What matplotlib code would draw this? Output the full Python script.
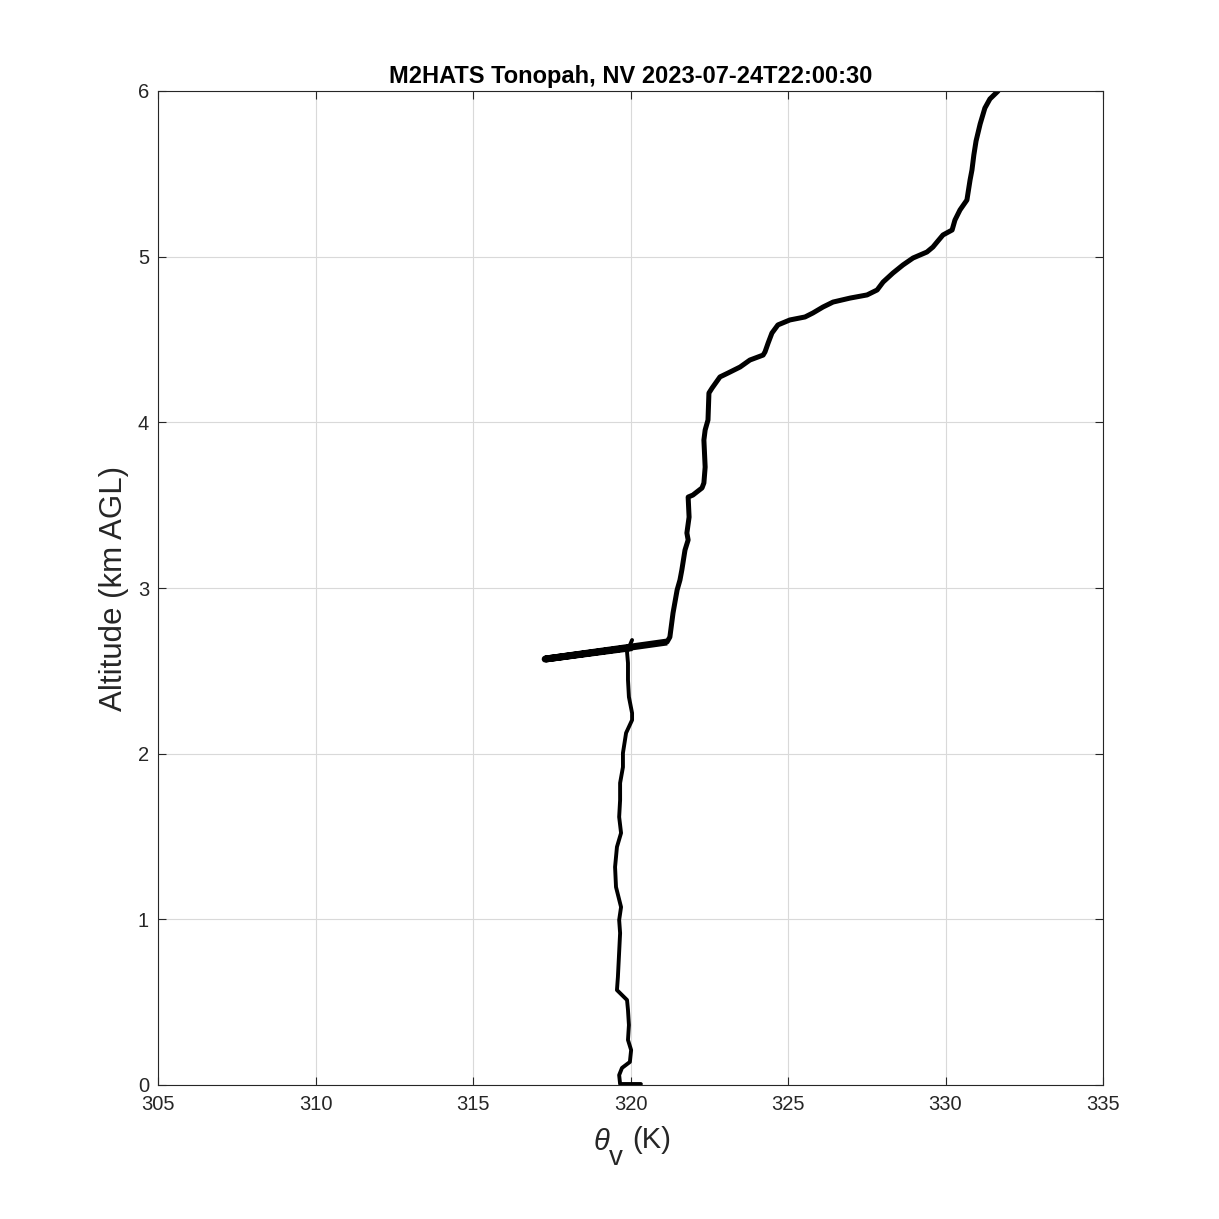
import matplotlib
matplotlib.use("Agg")
import matplotlib.pyplot as plt

plt.rcParams['font.family'] = ['Liberation Sans', 'DejaVu Sans']

title = "M2HATS Tonopah, NV 2023-07-24T22:00:30"
ylabel = "Altitude (km AGL)"
xlabel_symbol = "θ"
xlabel_sub = "v"
xlabel_unit = "(K)"

# Profile below the glitch (K, km)
theta_low = [320.33, 319.67, 319.64, 319.73, 319.98, 320.02, 319.92, 319.95, 319.92, 319.89,
             319.57, 319.60, 319.67, 319.64, 319.70, 319.54, 319.51, 319.57, 319.70, 319.64,
             319.67, 319.67, 319.76, 319.76, 319.86, 320.05, 320.05, 319.95, 319.92, 319.92,
             319.89, 320.05]
alt_low = [0.006, 0.006, 0.060, 0.103, 0.139, 0.211, 0.272, 0.362, 0.453, 0.513,
           0.573, 0.652, 0.917, 0.996, 1.074, 1.195, 1.316, 1.437, 1.521, 1.618,
           1.720, 1.823, 1.919, 2.004, 2.125, 2.203, 2.245, 2.342, 2.445, 2.547,
           2.614, 2.686]

# Glitch segment near 2.6 km
theta_glitch = [320.05, 317.29, 321.16]
alt_glitch = [2.640, 2.571, 2.674]

# Profile above the glitch
theta_high = [321.16, 321.25, 321.35, 321.48, 321.57, 321.63, 321.73, 321.83, 321.79, 321.86,
              321.83, 321.98, 322.27, 322.33, 322.37, 322.33, 322.37, 322.46, 322.49, 322.59,
              322.84, 323.10, 323.48, 323.79, 324.21, 324.27, 324.37, 324.49, 324.68, 325.06,
              325.54, 325.79, 326.11, 326.43, 326.97, 327.51, 327.83, 328.02, 328.33, 328.65,
              328.97, 329.41, 329.60, 329.73, 329.92, 330.21, 330.30, 330.46, 330.68, 330.78,
              330.84, 330.90, 330.97, 331.10, 331.25, 331.41, 331.67]
alt_high = [2.674, 2.704, 2.849, 2.988, 3.048, 3.109, 3.229, 3.290, 3.332, 3.428,
            3.549, 3.561, 3.604, 3.634, 3.730, 3.893, 3.954, 4.014, 4.177, 4.207,
            4.274, 4.298, 4.334, 4.376, 4.406, 4.425, 4.479, 4.539, 4.588, 4.618,
            4.636, 4.660, 4.696, 4.726, 4.750, 4.769, 4.799, 4.847, 4.901, 4.950,
            4.992, 5.028, 5.058, 5.088, 5.131, 5.161, 5.221, 5.282, 5.342, 5.463,
            5.523, 5.614, 5.698, 5.801, 5.897, 5.952, 6.000]

xticks = [305, 310, 315, 320, 325, 330, 335]
yticks = [0, 1, 2, 3, 4, 5, 6]

W = H = 1219
fig = plt.figure(figsize=(W/100, H/100), dpi=100)
ax = fig.add_axes([158/W, 1 - 1085/H, (1103-158)/W, (1085-91)/H])

ax.plot(theta_low, alt_low, color='black', lw=2.8, solid_joinstyle='round', solid_capstyle='round')
ax.plot(theta_glitch, alt_glitch, color='black', lw=5.0, solid_joinstyle='round', solid_capstyle='butt')
ax.plot(theta_high, alt_high, color='black', lw=3.6, solid_joinstyle='round', solid_capstyle='round')

ax.set_xlim(305, 335)
ax.set_ylim(0, 6)
ax.set_xticks(xticks)
ax.set_yticks(yticks)
ax.grid(True, color='#d9d9d9', lw=0.8)
ax.set_axisbelow(True)
for s in ax.spines.values():
    s.set_color('#262626')
    s.set_linewidth(0.8)
ax.tick_params(direction='in', length=6, width=0.8, top=True, right=True,
               labelsize=14.5, colors='#262626', labelcolor='#262626')
ax.tick_params(axis='x', pad=7)
ax.tick_params(axis='y', pad=6.5)

ax.set_title(title, fontsize=17, fontweight='bold', pad=6)
ax.set_ylabel(ylabel, fontsize=22.5, color='#262626')
ax.yaxis.set_label_coords((129-158)/945, 0.5)

# x label: theta with full-size lowered subscript (MATLAB TeX style)
fig.text(594/W, 1 - 1150/H, xlabel_symbol, fontsize=21, fontstyle='italic',
         color='#262626', ha='left', va='baseline')
fig.text(609/W, 1 - 1165/H, xlabel_sub, fontsize=20, color='#262626',
         ha='left', va='baseline')
fig.text(632/W, 1 - 1148/H, xlabel_unit, fontsize=21, color='#262626',
         ha='left', va='baseline')

fig.savefig('out.png', dpi=100, facecolor='white')
